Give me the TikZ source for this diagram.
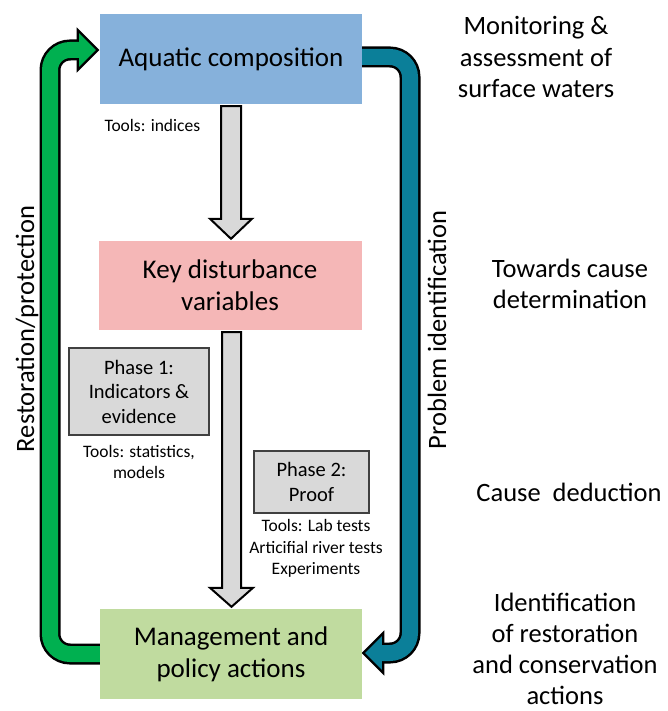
\documentclass[tikz,border=0pt]{standalone}
\usepackage{fontspec}
\setmainfont{Carlito}
\usepackage{tikz}
\usetikzlibrary{calc,backgrounds}
\definecolor{aquablue}{HTML}{86B1DB}
\definecolor{keypink}{HTML}{F5B7B7}
\definecolor{mgmtgreen}{HTML}{C0DB9F}
\definecolor{restgreen}{HTML}{00B050}
\definecolor{probteal}{HTML}{0B7F99}
\definecolor{phasegray}{HTML}{D9D9D9}

\begin{document}
\begin{tikzpicture}[x=1pt,y=-1pt,
  mainbox/.style={minimum width=262pt,minimum height=90pt,inner sep=0pt,align=center,font=\fontsize{27}{32}\selectfont},
  phasebox/.style={draw=black!75,line width=1.3pt,fill=phasegray,inner sep=0pt,align=center,font=\fontsize{20.5}{24.5}\selectfont},
  tools/.style={align=center,font=\fontsize{17.5}{21.5}\selectfont},
  sidetext/.style={align=center,font=\fontsize{26.5}{31.5}\selectfont},
  bandout/.style={line width=21pt,draw=black,rounded corners=20pt},
  bandin/.style={line width=16pt,rounded corners=20pt},
  bandhead/.style={draw=black,line width=2.2pt,line join=miter},
  fatgray/.style={draw=black,line width=2pt,fill=phasegray,line join=miter}]
\useasboundingbox (0,0) rectangle (667,711);

% boxes
\node[mainbox,fill=aquablue] (aq) at (231,59) {Aquatic composition};
\node[mainbox,fill=keypink,minimum width=263pt,minimum height=89pt] (key) at (230,285.5) {Key disturbance\\variables};
\node[mainbox,fill=mgmtgreen] (mgmt) at (231,654) {Management and\\policy actions};
\node[phasebox,minimum width=140pt,minimum height=87pt] (ph1) at (139,391.5) {Phase 1:\\Indicators \&\\evidence};
\node[phasebox,minimum width=115pt,minimum height=62pt] (ph2) at (311.5,482) {Phase 2:\\Proof};

% tools
\node[tools,anchor=west] (tind) at (101,125) {Tools: indices};
\node[tools] (tstat) at (139,462) {Tools: statistics,\\models};
\node[tools] (tlab) at (316,548.5) {Tools: Lab tests\\Articifial river tests\\Experiments};

% right column
\node[sidetext] (mon) at (536,57) {Monitoring \&\\assessment of\\surface waters};
\node[sidetext] (tow) at (570,284) {Towards cause\\determination};
\node[sidetext] (ded) at (569,492) {Cause\ \ deduction};
\node[sidetext,font=\fontsize{26.5}{30.8}\selectfont] (ident) at (565,649) {Identification\\of restoration\\and conservation\\actions};

% loop labels
\node[sidetext,rotate=90] (rest) at (27,329) {Restoration/protection};
\node[sidetext,rotate=90] (prob) at (437,330) {Problem identification};

% gray arrows
\draw[fatgray] let \p1=([yshift=-2pt]aq.south), \p2=([yshift=2pt]aq.south |- key.north) in
  (\x1-10pt,\y1) -- (\x1+10pt,\y1) -- (\x1+10pt,\y2+20pt) -- (\x1+21pt,\y2+20pt)
  -- (\x1,\y2) -- (\x1-21pt,\y2+20pt) -- (\x1-10pt,\y2+20pt) -- cycle;
\draw[fatgray] let \p1=([xshift=1.5pt,yshift=-2pt]key.south), \p2=([xshift=1.5pt,yshift=2pt]key.south |- mgmt.north) in
  (\x1-9.5pt,\y1) -- (\x1+9.5pt,\y1) -- (\x1+9.5pt,\y2+19pt) -- (\x1+21.5pt,\y2+19pt)
  -- (\x1,\y2) -- (\x1-21.5pt,\y2+19pt) -- (\x1-9.5pt,\y2+19pt) -- cycle;

% loop arrows
\coordinate (gtip) at ([xshift=-2pt,yshift=9pt]aq.west);
\coordinate (gbase) at ([xshift=-20pt]gtip);
\coordinate (gcol) at (50,0);
\coordinate (tstart) at ([yshift=2pt]aq.east);
\coordinate (ttip) at ([xshift=1pt,yshift=1pt]mgmt.east);
\coordinate (tbase) at ([xshift=20pt]ttip);
\coordinate (tcol) at (410,0);
\begin{scope}[on background layer]
\draw[bandout] (mgmt.west) -- (mgmt.west -| gcol) -- (gcol |- gbase) -- (gbase);
\draw[bandhead,fill=restgreen] ([yshift=20pt]gbase) -- (gtip) -- ([yshift=-20pt]gbase) -- cycle;
\draw[bandin,draw=restgreen] (mgmt.west) -- (mgmt.west -| gcol) -- (gcol |- gbase) -- ([xshift=2pt]gbase);

\draw[bandout] (tstart) -- (tstart -| tcol) -- (tcol |- tbase) -- (tbase);
\draw[bandhead,fill=probteal] ([yshift=20pt]tbase) -- (ttip) -- ([yshift=-20pt]tbase) -- cycle;
\draw[bandin,draw=probteal] (tstart) -- (tstart -| tcol) -- (tcol |- tbase) -- ([xshift=-2pt]tbase);
\end{scope}
\end{tikzpicture}
\end{document}
